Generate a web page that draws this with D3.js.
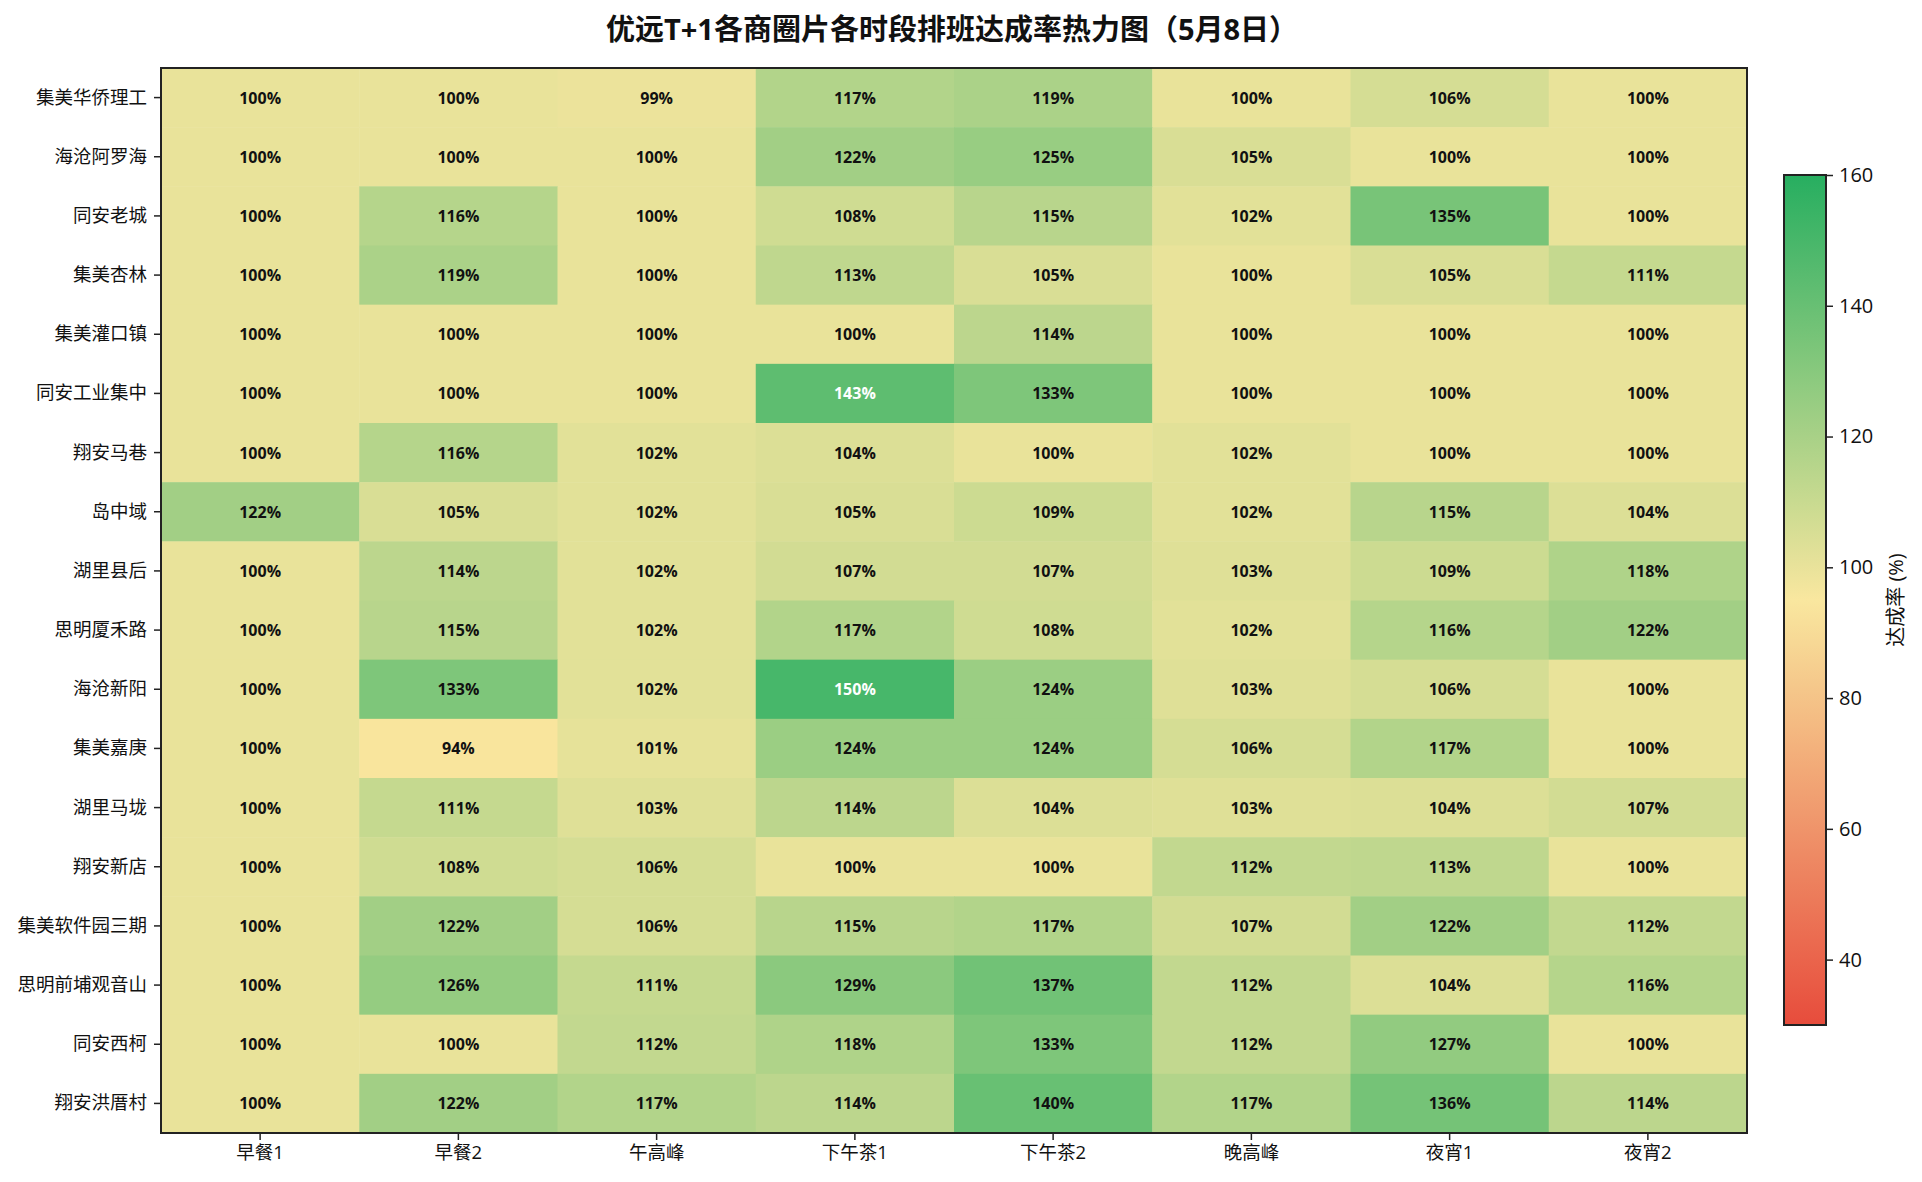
<!DOCTYPE html>
<html>
<head>
<meta charset="utf-8">
<script src="https://cdn.jsdelivr.net/npm/d3@7"></script>
<style>
  body { margin: 0; background: #fff; }
  text { font-family: "Open Sans", "Noto Sans CJK SC", sans-serif; }
</style>
</head>
<body>
<div id="chart"></div>
<script>
// categories
var periods = ["早餐1", "早餐2", "午高峰", "下午茶1", "下午茶2", "晚高峰", "夜宵1", "夜宵2"];
var areas = ["集美华侨理工", "海沧阿罗海", "同安老城", "集美杏林", "集美灌口镇", "同安工业集中",
  "翔安马巷", "岛中域", "湖里县后", "思明厦禾路", "海沧新阳", "集美嘉庚", "湖里马垅",
  "翔安新店", "集美软件园三期", "思明前埔观音山", "同安西柯", "翔安洪厝村"];

// achievement rate (%) per area, one value per period
var rates = [
  [100, 100, 99, 117, 119, 100, 106, 100],
  [100, 100, 100, 122, 125, 105, 100, 100],
  [100, 116, 100, 108, 115, 102, 135, 100],
  [100, 119, 100, 113, 105, 100, 105, 111],
  [100, 100, 100, 100, 114, 100, 100, 100],
  [100, 100, 100, 143, 133, 100, 100, 100],
  [100, 116, 102, 104, 100, 102, 100, 100],
  [122, 105, 102, 105, 109, 102, 115, 104],
  [100, 114, 102, 107, 107, 103, 109, 118],
  [100, 115, 102, 117, 108, 102, 116, 122],
  [100, 133, 102, 150, 124, 103, 106, 100],
  [100, 94, 101, 124, 124, 106, 117, 100],
  [100, 111, 103, 114, 104, 103, 104, 107],
  [100, 108, 106, 100, 100, 112, 113, 100],
  [100, 122, 106, 115, 117, 107, 122, 112],
  [100, 126, 111, 129, 137, 112, 104, 116],
  [100, 100, 112, 118, 133, 112, 127, 100],
  [100, 122, 117, 114, 140, 117, 136, 114]
];
var cbTicks = [40, 60, 80, 100, 120, 140, 160];

var W = 1922, H = 1182;
var svg = d3.select("#chart").append("svg")
  .attr("width", W)
  .attr("height", H);

var plotL = 161, plotR = 1747, plotT = 68, plotB = 1133;
var fontStack = '"Open Sans", "Noto Sans CJK SC", sans-serif';

var x = d3.scaleBand().domain(periods).range([plotL, plotR]);
var y = d3.scaleBand().domain(areas).range([plotT, plotB]);

// red -> yellow -> green, 30..160
var color = d3.scaleLinear()
  .domain([30, 95, 160])
  .range(["#e74c3c", "#f9e79f", "#27ae60"]);

var cells = [];
rates.forEach(function (row, i) {
  row.forEach(function (v, j) {
    cells.push({ area: areas[i], period: periods[j], value: v });
  });
});

svg.append("g")
  .selectAll("rect")
  .data(cells)
  .join("rect")
  .attr("x", d => x(d.period))
  .attr("y", d => y(d.area))
  .attr("width", x.bandwidth() + 0.5)
  .attr("height", y.bandwidth() + 0.5)
  .attr("fill", d => color(d.value));

svg.append("g")
  .selectAll("text")
  .data(cells)
  .join("text")
  .attr("x", d => x(d.period) + x.bandwidth() / 2)
  .attr("y", d => y(d.area) + y.bandwidth() / 2)
  .attr("text-anchor", "middle")
  .attr("dominant-baseline", "central")
  .attr("font-size", 16)
  .attr("font-weight", "bold")
  .attr("fill", d => d.value > 140 ? "#fff" : "#111")
  .text(d => d.value + "%");

// axes
var xAxis = svg.append("g")
  .attr("transform", "translate(0," + plotB + ")")
  .call(d3.axisBottom(x).tickSize(7).tickPadding(6));
var yAxis = svg.append("g")
  .attr("transform", "translate(" + plotL + ",0)")
  .call(d3.axisLeft(y).tickSize(7).tickPadding(7));
[xAxis, yAxis].forEach(function (a) {
  a.select(".domain").remove();
  a.selectAll("line").attr("stroke", "#222").attr("stroke-width", 1.5);
  a.selectAll("text").attr("font-size", 18.5).attr("fill", "#111")
    .style("font-family", fontStack);
});

svg.append("rect")
  .attr("x", plotL).attr("y", plotT)
  .attr("width", plotR - plotL).attr("height", plotB - plotT)
  .attr("fill", "none").attr("stroke", "#222").attr("stroke-width", 2);

// title
svg.append("text")
  .attr("x", 952)
  .attr("y", 28)
  .attr("text-anchor", "middle")
  .attr("dominant-baseline", "central")
  .attr("font-size", 29)
  .attr("font-weight", "bold")
  .attr("fill", "#111")
  .text("优远T+1各商圈片各时段排班达成率热力图（5月8日）");

// colorbar
var cbX = 1784, cbW = 42, cbTop = 175, cbBottom = 1025;
var cbScale = d3.scaleLinear().domain([30, 160]).range([cbBottom, cbTop]);

var defs = svg.append("defs");
var grad = defs.append("linearGradient")
  .attr("id", "cbgrad")
  .attr("x1", 0).attr("y1", 1).attr("x2", 0).attr("y2", 0);
d3.range(0, 1.0001, 0.05).forEach(function (t) {
  grad.append("stop")
    .attr("offset", t)
    .attr("stop-color", color(30 + t * 130));
});

svg.append("rect")
  .attr("x", cbX).attr("y", cbTop)
  .attr("width", cbW).attr("height", cbBottom - cbTop)
  .attr("fill", "url(#cbgrad)")
  .attr("stroke", "#222").attr("stroke-width", 2);

var cbAxis = svg.append("g")
  .attr("transform", "translate(" + (cbX + cbW) + ",0)")
  .call(d3.axisRight(cbScale).tickValues(cbTicks).tickSize(7).tickPadding(6));
cbAxis.select(".domain").remove();
cbAxis.selectAll("line").attr("stroke", "#222").attr("stroke-width", 1.5);
cbAxis.selectAll("text").attr("font-size", 20).attr("fill", "#111")
  .style("font-family", fontStack);

svg.append("text")
  .attr("transform", "translate(1895," + ((cbTop + cbBottom) / 2) + ") rotate(-90)")
  .attr("text-anchor", "middle")
  .attr("dominant-baseline", "central")
  .attr("font-size", 20)
  .attr("fill", "#111")
  .text("达成率 (%)");
</script>
</body>
</html>
